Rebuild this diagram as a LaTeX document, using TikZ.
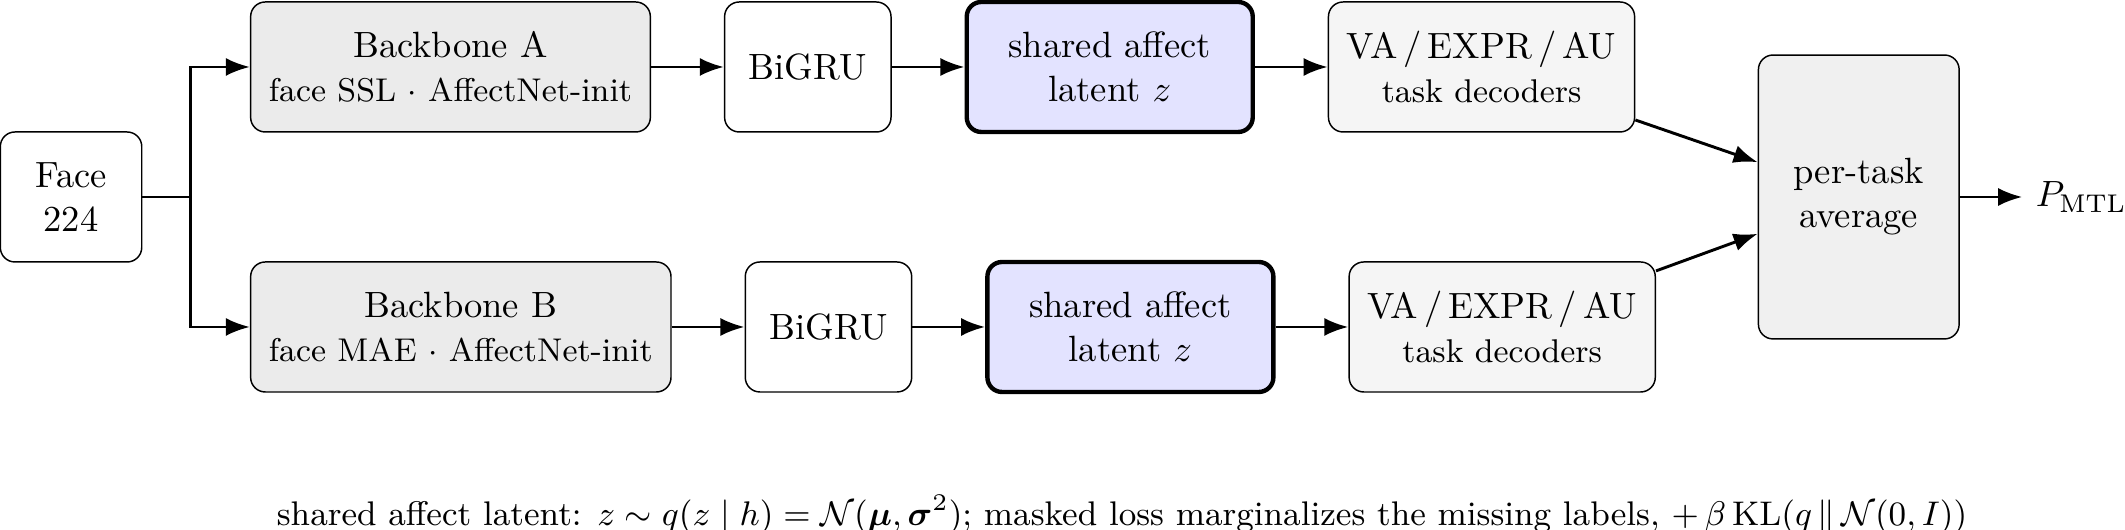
\documentclass[tikz,border=0pt]{standalone}
\usepackage{fix-cm}
\usepackage{amsmath}
\usetikzlibrary{arrows.meta,positioning}

\begin{document}
\begin{tikzpicture}[>=Latex,thick,
  box/.style={draw,thin,rounded corners=4pt,align=center,inner xsep=5pt,
    minimum height=1.25cm},
  backbone/.style={box,fill=black!8},
  latent/.style={box,very thick,fill=blue!11,minimum width=2.75cm},
  decoder/.style={box,fill=black!4}]
% Fixed frame so the page keeps the reference proportions.
\useasboundingbox (-0.683,-3.193) rectangle (19.75,1.894);
\node[box,minimum width=1.36cm] (face) at (0,0) {Face\\224};
\coordinate[right=0.46cm of face] (fork);

% Upper branch
\node[backbone,anchor=west] (bbA) at (1.72,1.25)
 {Backbone A\\{\small face SSL $\cdot$ AffectNet-init}};
\node[box,minimum width=1.6cm,right=0.7cm of bbA] (gruA) {BiGRU};
\node[latent,right=0.7cm of gruA] (latA) {shared affect\\latent $z$};
\node[decoder,right=0.7cm of latA] (decA)
 {VA\,/\,EXPR\,/\,AU\\{\small task decoders}};

% Lower branch
\node[backbone,anchor=west] (bbB) at (1.72,-1.25)
 {Backbone B\\{\small face MAE $\cdot$ AffectNet-init}};
\node[box,minimum width=1.6cm,right=0.7cm of bbB] (gruB) {BiGRU};
\node[latent,right=0.7cm of gruB] (latB) {shared affect\\latent $z$};
\node[decoder,right=0.7cm of latB] (decB)
 {VA\,/\,EXPR\,/\,AU\\{\small task decoders}};

\node[box,fill=black!6,minimum width=1.93cm,minimum height=2.73cm] (avg)
 at (17.19,0) {per-task\\average};
\node[right=0.6cm of avg] (pmtl) {$P_{\mathrm{MTL}}$};

\draw (face) -- (fork);
\draw[->] (fork) |- (bbA);
\draw[->] (fork) |- (bbB);
\draw[->] (bbA) -- (gruA);
\draw[->] (gruA) -- (latA);
\draw[->] (latA) -- (decA);
\draw[->] (bbB) -- (gruB);
\draw[->] (gruB) -- (latB);
\draw[->] (latB) -- (decB);
\draw[->] (decA) -- (avg);
\draw[->] (decB) -- (avg);
\draw[->] (avg) -- (pmtl);

\node[below=0.84cm of latB,xshift=-0.08cm,font=\fontsize{9.35}{11}\selectfont] (note)
 {shared affect latent: $z\sim q(z\mid h)=\mathcal{N}(\boldsymbol{\mu},\boldsymbol{\sigma}^2)$;
  masked loss marginalizes the missing labels, $+\,\beta\,\mathrm{KL}(q\,\|\,\mathcal{N}(0,I))$};
\end{tikzpicture}
\end{document}
